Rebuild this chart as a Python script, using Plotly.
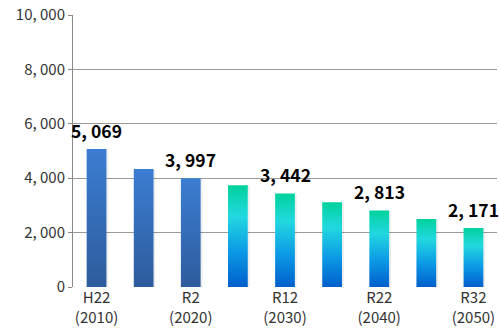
import plotly.graph_objects as go

# Population projection (persons), every 5 years from 2010 to 2050
years = [2010, 2015, 2020, 2025, 2030, 2035, 2040, 2045, 2050]
values = [5069, 4335, 3997, 3740, 3442, 3120, 2813, 2500, 2171]
actual_count = 3  # first three are observed, the rest are projections

tick_positions = [0, 2, 4, 6, 8]
tick_labels = ["H22<br>(2010)", "R2<br>(2020)", "R12<br>(2030)", "R22<br>(2040)", "R32<br>(2050)"]
label_positions = [0, 2, 4, 6, 8]

y_ticks = [0, 2000, 4000, 6000, 8000, 10000]
y_tick_labels = ["0", "2, 000", "4, 000", "6, 000", "8, 000", "10, 000"]

FONT = "Noto Sans CJK JP, sans-serif"
HALF = 0.21

observed_scale = [[0.0, "#2d5c9c"], [1.0, "#3b7dd2"]]
projected_scale = [[0.0, "#005fcb"], [0.35, "#0c9ae6"], [0.7, "#22d8e0"], [1.0, "#00d29c"]]

fig = go.Figure()

for i, v in enumerate(values):
    xs = [i - HALF, i + HALF, i + HALF, i - HALF, i - HALF]
    ys = [0, 0, v, v, 0]
    # faint shadow on the right edge
    fig.add_trace(go.Scatter(
        x=[i + HALF, i + HALF + 0.04, i + HALF + 0.04, i + HALF, i + HALF],
        y=[0, 0, v * 0.995, v * 0.995, 0],
        fill="toself", mode="lines", line=dict(width=0),
        fillcolor="rgba(0,0,0,0.07)", hoverinfo="skip", showlegend=False,
    ))
    fig.add_trace(go.Scatter(
        x=xs, y=ys, fill="toself", mode="lines", line=dict(width=0),
        fillgradient=dict(
            type="vertical",
            colorscale=observed_scale if i < actual_count else projected_scale,
        ),
        hoverinfo="skip", showlegend=False,
    ))

for i in label_positions:
    fig.add_annotation(
        x=i, y=values[i], text=f"{values[i]:,}".replace(",", ", "),
        showarrow=False, yanchor="bottom", yshift=4,
        font=dict(family=FONT, size=17.5, color="#000000", weight="bold"),
    )

fig.update_layout(
    width=499, height=336,
    margin=dict(l=73, r=2, t=15, b=49),
    paper_bgcolor="white", plot_bgcolor="white",
    font=dict(family=FONT, size=15, color="#333333"),
    showlegend=False,
)
fig.update_xaxes(
    range=[-0.5, 8.5], tickmode="array", tickvals=tick_positions, ticktext=tick_labels,
    showgrid=False, zeroline=False, showline=False, ticks="",
    tickfont=dict(family=FONT, size=15, color="#333333"),
)
fig.update_yaxes(
    range=[0, 10000], tickmode="array", tickvals=y_ticks, ticktext=y_tick_labels,
    showgrid=True, gridcolor="#9a9a9a", gridwidth=1, zeroline=False,
    showline=True, linecolor="#8a8a8a", linewidth=1,
    ticks="outside", ticklen=4, tickcolor="#8a8a8a",
    tickfont=dict(family=FONT, size=15, color="#333333"),
)

fig.write_html("out.html")
